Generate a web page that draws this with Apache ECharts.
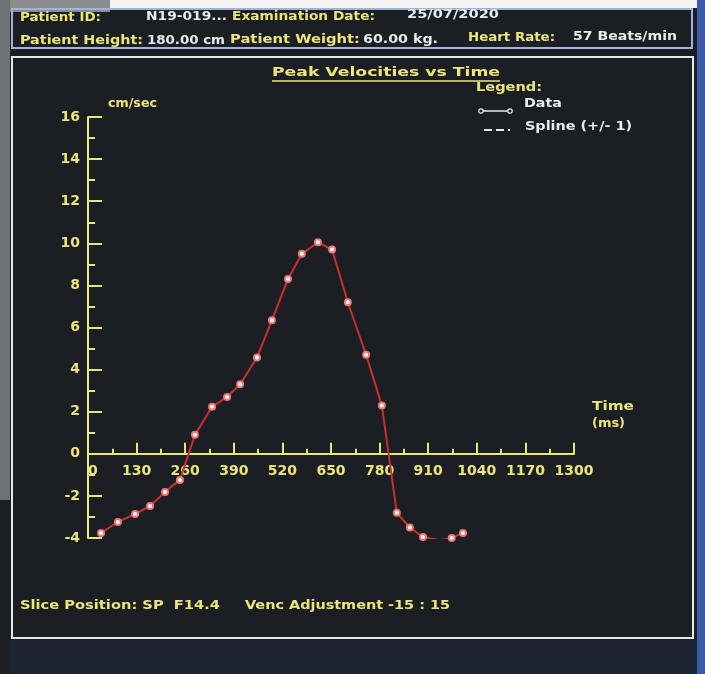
<!DOCTYPE html>
<html>
<head>
<meta charset="utf-8">
<script src="https://cdn.jsdelivr.net/npm/echarts@6/dist/echarts.min.js"></script>
<style>
  html, body { margin: 0; padding: 0; background: #1b1e23; }
  #chart { width: 705px; height: 674px; }
</style>
</head>
<body>
<div id="chart"></div>
<script>
// Phase times (ms) and peak velocities (cm/sec) over the cardiac cycle
const timesMs = [35, 80, 126, 166, 206, 246, 286, 332, 372, 407, 452, 492, 535, 572, 615, 653, 695, 744, 786, 826, 861, 896, 941, 973, 1003];
const peakVelocity = [-3.76, -3.24, -2.86, -2.48, -1.81, -1.24, 0.9, 2.24, 2.7, 3.3, 4.57, 6.35, 8.3, 9.5, 10.05, 9.7, 7.2, 4.7, 2.3, -2.8, -3.5, -3.95, -4.1, -4.0, -3.76];
const xTicks = [0, 130, 260, 390, 520, 650, 780, 910, 1040, 1170, 1300];
const yTicks = [-4, -2, 0, 2, 4, 6, 8, 10, 12, 14, 16];

const YELLOW = '#ece67a';
const WHITE = '#e8ecee';
const BG = '#1b1e23';
const FONT = '"DejaVu Sans", "Liberation Sans", Arial, sans-serif';

const GRID = { left: 88, right: 131, top: 117, bottom: 136 };
const plotH = 674 - GRID.top - GRID.bottom;

const chart = echarts.init(document.getElementById('chart'), null, { renderer: 'canvas' });

// The monitor's font is wide: measure each label and stretch it horizontally to its span.
const measureCtx = document.createElement('canvas').getContext('2d');
function txt(x, y, s, color, size, width) {
  const font = 'bold ' + size + 'px ' + FONT;
  measureCtx.font = font;
  const w = measureCtx.measureText(s).width;
  const sx = width ? width / w : 1;
  return { type: 'text', x: x, y: y, scaleX: sx, z: 10,
    style: { text: s, fill: color, font: font, textVerticalAlign: 'middle' } };
}

chart.setOption({
  backgroundColor: BG,
  animation: false,
  grid: Object.assign({ containLabel: false }, GRID),
  xAxis: {
    type: 'value', min: xTicks[0], max: xTicks[xTicks.length - 1], interval: 130,
    // axis drawn across the zero line of the velocity axis
    offset: -(0 - yTicks[0]) / (yTicks[yTicks.length - 1] - yTicks[0]) * plotH,
    axisLine: { onZero: false, lineStyle: { color: YELLOW, width: 2 } },
    axisTick: { show: true, inside: true, length: 11, lineStyle: { color: YELLOW, width: 2 } },
    minorTick: { show: true, splitNumber: 2, length: 5, lineStyle: { color: YELLOW, width: 2 } },
    splitLine: { show: false },
    axisLabel: { color: YELLOW, fontFamily: FONT, fontWeight: 'bold', fontSize: 14, margin: 11,
      alignMinLabel: 'left', formatter: v => String(v) }
  },
  yAxis: {
    type: 'value', min: yTicks[0], max: yTicks[yTicks.length - 1], interval: 2,
    axisLine: { show: true, onZero: false, lineStyle: { color: YELLOW, width: 2 } },
    axisTick: { show: true, inside: true, length: 14, lineStyle: { color: YELLOW, width: 2 } },
    minorTick: { show: true, splitNumber: 2, length: 7, lineStyle: { color: YELLOW, width: 2 } },
    splitLine: { show: false },
    axisLabel: { color: YELLOW, fontFamily: FONT, fontWeight: 'bold', fontSize: 14, margin: 8 }
  },
  series: [{
    name: 'Data',
    type: 'line',
    data: timesMs.map((t, i) => [t, peakVelocity[i]]),
    symbol: 'emptyCircle',
    symbolSize: 6,
    lineStyle: { color: '#c8302c', width: 2 },
    itemStyle: { color: '#ee7a78', borderColor: '#e25a58', borderWidth: 1.5 },
    z: 5
  }],
  graphic: [
    // photo surround and screen frame
    { type: 'rect', shape: { x: 0, y: 0, width: 705, height: 8 }, style: { fill: '#f4f4f4' }, z: 0 },
    { type: 'rect', shape: { x: 0, y: 0, width: 110, height: 12 }, style: { fill: '#8a8c8e' }, z: 0 },
    { type: 'rect', shape: { x: 0, y: 0, width: 10, height: 500 }, style: { fill: '#6e7276' }, z: 0 },
    { type: 'rect', shape: { x: 697, y: 0, width: 8, height: 674 }, style: { fill: '#3d5aa8' }, z: 0 },
    { type: 'rect', shape: { x: 10, y: 640, width: 687, height: 34 }, style: { fill: '#1d2433' }, z: 0 },
    // header box
    { type: 'rect', shape: { x: 12, y: 9, width: 680, height: 39 },
      style: { fill: 'none', stroke: '#9fb4d8', lineWidth: 2 }, z: 1 },
    // main panel box
    { type: 'rect', shape: { x: 12, y: 57, width: 681, height: 581 },
      style: { fill: 'none', stroke: '#e6e8ea', lineWidth: 2 }, z: 1 },

    // header text
    txt(20, 18, 'Patient ID:', YELLOW, 13, 81),
    txt(146, 17, 'N19-019...', WHITE, 13, 81),
    txt(232, 17, 'Examination Date:', YELLOW, 13, 143),
    txt(407, 15, '25/07/2020', WHITE, 13, 92),
    txt(20, 41, 'Patient Height:', YELLOW, 13, 123),
    txt(147, 41, '180.00 cm', WHITE, 13, 78),
    txt(230, 40, 'Patient Weight:', YELLOW, 13, 130),
    txt(363, 40, '60.00 kg.', WHITE, 13, 75),
    txt(468, 38, 'Heart Rate:', YELLOW, 13, 87),
    txt(573, 37, '57 Beats/min', WHITE, 13, 104),

    // chart title with underline
    txt(272, 73, 'Peak Velocities vs Time', YELLOW, 13, 228),
    { type: 'line', shape: { x1: 272, y1: 81, x2: 500, y2: 81 }, style: { stroke: YELLOW, lineWidth: 1.5 }, z: 10 },

    // legend
    txt(476, 88, 'Legend:', YELLOW, 13, 66),
    { type: 'line', shape: { x1: 481, y1: 111, x2: 510, y2: 111 }, style: { stroke: WHITE, lineWidth: 1.5 }, z: 10 },
    { type: 'circle', shape: { cx: 481, cy: 111, r: 2.2 }, style: { fill: BG, stroke: WHITE, lineWidth: 1.2 }, z: 11 },
    { type: 'circle', shape: { cx: 510, cy: 111, r: 2.2 }, style: { fill: BG, stroke: WHITE, lineWidth: 1.2 }, z: 11 },
    txt(524, 104, 'Data', WHITE, 12, 38),
    { type: 'line', shape: { x1: 484, y1: 130, x2: 510, y2: 130 },
      style: { stroke: WHITE, lineWidth: 2, lineDash: [8, 4] }, z: 10 },
    txt(525, 127, 'Spline (+/- 1)', WHITE, 12, 107),

    // axis names
    txt(108, 104, 'cm/sec', YELLOW, 12, 49),
    txt(592, 407, 'Time', YELLOW, 13, 42),
    txt(592, 424, '(ms)', YELLOW, 13, 33),

    // acquisition info
    txt(20, 606, 'Slice Position: SP  F14.4', YELLOW, 13, 200),
    txt(245, 606, 'Venc Adjustment -15 : 15', YELLOW, 13, 205)
  ]
});
</script>
</body>
</html>
